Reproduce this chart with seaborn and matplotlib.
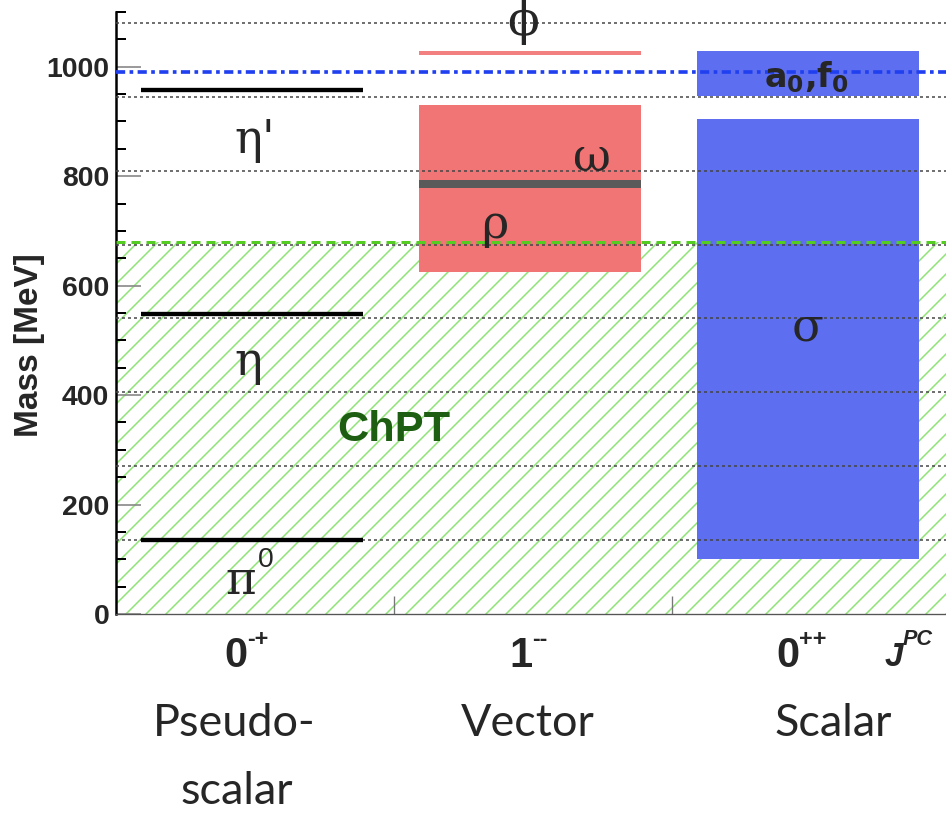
import matplotlib
matplotlib.use("Agg")
import matplotlib.pyplot as plt
import seaborn as sns
import pandas as pd
from matplotlib.ticker import MultipleLocator

# meson masses / mass ranges in MeV
pseudo_names = ["π", "η", "η'"]
pseudo_masses = [135, 548, 958]

vector_names = ["ρ", "ω", "ϕ"]
vector_low = [625, 778, 1021]
vector_high = [930, 793, 1029]

scalar_names = ["σ", "a0,f0"]
scalar_low = [100, 946]
scalar_high = [905, 1028]

# n * m_pi thresholds, K Kbar threshold, ChPT range
threshold_masses = [135, 270, 405, 540, 675, 810, 945, 1080]
kk_threshold = 990
chpt_limit = 680

jpc_base = ["0", "1", "0"]
jpc_sup = ["-+", "--", "++"]
group_labels = ["Pseudo-", "Vector", "Scalar"]

sns.set_theme(style="ticks")
plt.rcParams['font.family'] = ['Liberation Sans', 'DejaVu Sans']
plt.rcParams['hatch.linewidth'] = 0.9

DPI = 120
fig = plt.figure(figsize=(946 / DPI, 821 / DPI), dpi=DPI)
ax = fig.add_axes([0.1226, 0.2521, 0.8816, 0.7333])

# ChPT hatched region
ax.bar(1.5, chpt_limit, width=3, bottom=0, color="white", edgecolor="#8ee474",
       hatch="//", linewidth=0, zorder=0)

# resonance bands
bands = pd.DataFrame({
    "col": [1, 1, 1, 2, 2],
    "low": vector_low + scalar_low,
    "high": vector_high + scalar_high,
})
band_colors = ["#f27575", "#5a5a5a", "#f28080", "#5d6ef0", "#5d6ef0"]
for (_, row), c in zip(bands.iterrows(), band_colors):
    ax.bar(row["col"] + 0.49, row["high"] - row["low"], width=0.8, bottom=row["low"],
           color=c, linewidth=0, zorder=1)

# multi-pion thresholds
ax.hlines(threshold_masses, 0, 3, colors="#444444", linestyles=(0, (2, 2)),
          linewidth=0.9, zorder=3)
ax.axhline(chpt_limit, color="#55cc22", linestyle=(0, (3, 2)), linewidth=1.8, zorder=4)
ax.axhline(kk_threshold, color="#2040f0", linestyle=(0, (2.5, 1.2, 1, 1.2)),
           linewidth=2.2, zorder=4)

# pseudoscalar mesons
ax.hlines(pseudo_masses, 0.09, 0.89, colors="black", linewidth=2.6, zorder=5)

greek = dict(family="DejaVu Serif", fontsize=28, ha="center", va="center", zorder=6)
ax.text(0.50, 866, pseudo_names[2], **greek)
ax.text(0.475, 460, pseudo_names[1], **greek)
ax.text(0.45, 60, pseudo_names[0], **greek)
ax.text(0.54, 98, "0", fontsize=17, ha="center", va="center", zorder=6)
ax.text(1.363, 711, vector_names[0], **greek)
ax.text(1.712, 832, vector_names[1], **greek)
ax.text(1.464, 1082, vector_names[2], **greek)
ax.text(2.489, 523, scalar_names[0], **greek)
ax.text(2.482, 981, r"$\mathbf{a_0{,}f_0}$", fontsize=20, ha="center", va="center", zorder=6)
ax.text(1.0, 336, "ChPT", fontsize=26, fontweight="bold", color="#1d5e12",
        ha="center", va="center", zorder=6)

ax.set_xlim(0, 3)
ax.set_ylim(0, 1100)
ax.yaxis.set_major_locator(MultipleLocator(200))
ax.yaxis.set_minor_locator(MultipleLocator(50))
ax.set_xticks([1, 2])
ax.tick_params(axis="x", direction="in", length=11, width=0.8, color="#777777",
               labelbottom=False)
ax.tick_params(axis="y", which="major", direction="in", length=15, width=1.0,
               color="#888888", labelsize=17, pad=4)
ax.tick_params(axis="y", which="minor", direction="in", length=6, width=1.2, color="black")
plt.setp(ax.get_yticklabels(), fontweight="bold")

ax.set_ylabel("Mass [MeV]", fontsize=20, fontweight="bold")
ax.yaxis.set_label_coords(-0.085, 0.447)

sns.despine(ax=ax)
ax.spines["left"].set_linewidth(1.5)
ax.spines["left"].set_color("black")
ax.spines["bottom"].set_linewidth(0.8)
ax.spines["bottom"].set_color("#555555")

# J^PC labels under the columns
tr = ax.get_xaxis_transform()
for xb, b, s in zip([0.432, 1.457, 2.417], jpc_base, jpc_sup):
    ax.text(xb, -0.07, b, transform=tr, fontsize=25, fontweight="bold",
            ha="center", va="center", clip_on=False)
    ax.text(xb + 0.04, -0.043, s, transform=tr, fontsize=14, fontweight="bold",
            ha="left", va="center", clip_on=False)
ax.text(2.80, -0.072, "J", transform=tr, fontsize=20, fontweight="bold",
        style="italic", ha="center", va="center", clip_on=False)
ax.text(2.83, -0.042, "PC", transform=tr, fontsize=13, fontweight="bold",
        style="italic", ha="left", va="center", clip_on=False)

# family names
for xb, name in zip([0.424, 1.482, 2.579], group_labels):
    ax.text(xb, -0.203, name, transform=tr, family="Lato", fontsize=27,
            ha="center", va="baseline", clip_on=False)
ax.text(0.435, -0.316, "scalar", transform=tr, family="Lato", fontsize=27,
        ha="center", va="baseline", clip_on=False)

fig.savefig("out.png", dpi=DPI)
